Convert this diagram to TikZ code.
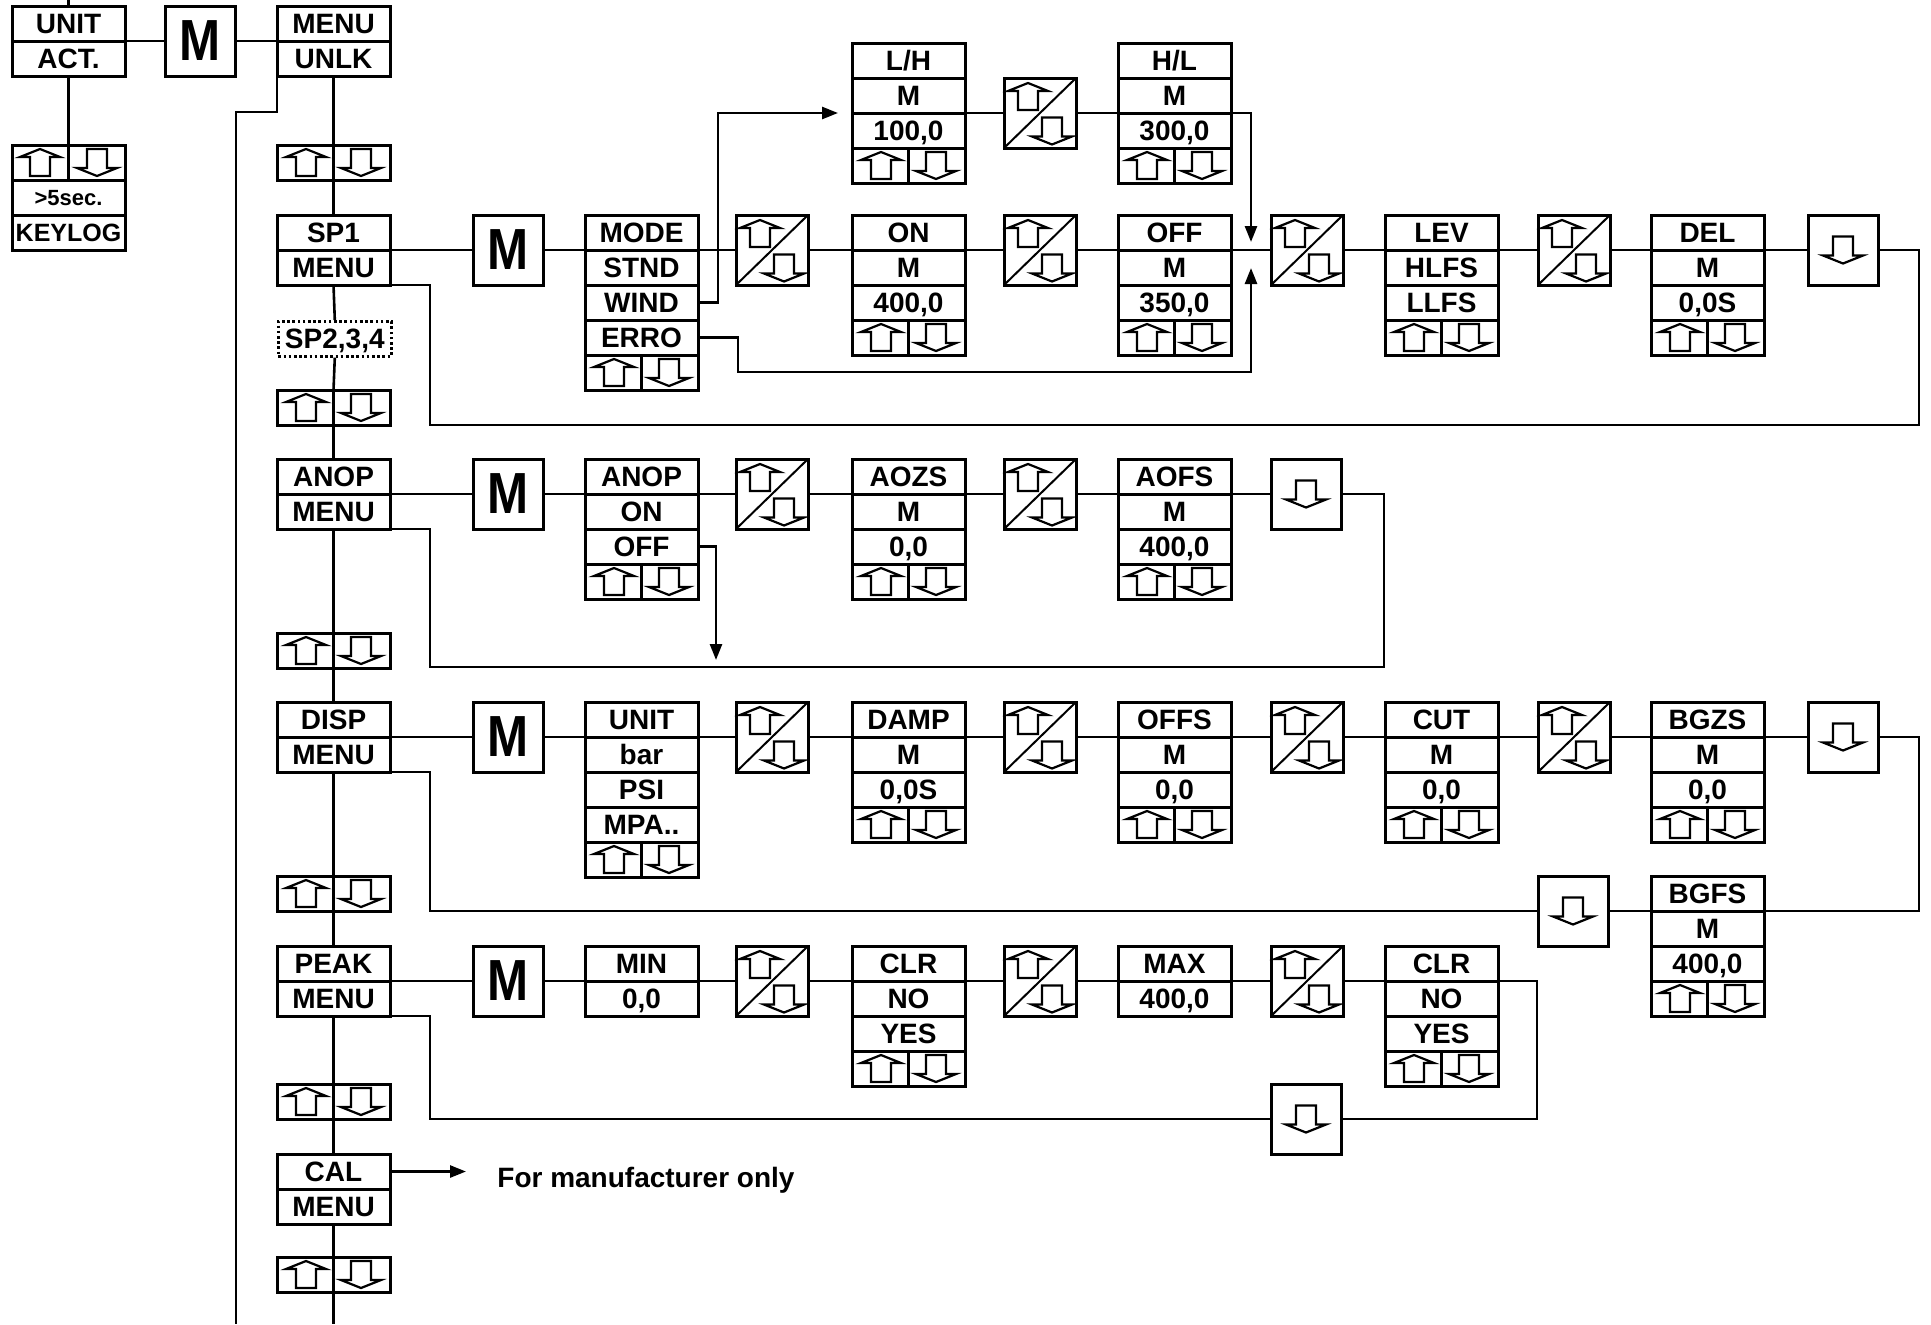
\documentclass[tikz,border=0pt]{standalone}
\usepackage{fontspec}
\setmainfont{Liberation Sans}
\usetikzlibrary{arrows.meta,calc}
\tikzset{
  bx/.style={draw, line width=1.5pt, inner sep=0pt, outer sep=0pt},
  bxl/.style={line width=1.5pt},
  conn/.style={line width=1.3pt},
  arr/.style={-{Triangle[length=8pt,width=6pt]}},
  txt/.style={font=\bfseries\fontsize{14}{14}\selectfont, inner sep=0pt, text height=10pt, text depth=0pt},
  glyph/.style={line width=1.1pt, line join=miter},
  uparr/.pic={\draw[glyph] (0,-13.5) -- (20,-5.5) -- (10,-5.5) -- (10,13.5) -- (-10,13.5) -- (-10,-5.5) -- (-20,-5.5) -- cycle;},
  dnarr/.pic={\draw[glyph] (0,13.5) -- (20,5.5) -- (10,5.5) -- (10,-13.5) -- (-10,-13.5) -- (-10,5.5) -- (-20,5.5) -- cycle;},
}
% stacked box: name, x, y, text rows, texts, arrow row (0/1)
\newcommand\sbx[6]{%
  \pgfmathsetmacro\sbxn{#4+#6}%
  \node[bx, minimum width=56.5pt, minimum height=\sbxn*17.5pt, anchor=north west] (#1) at (#2,#3) {};
  \foreach \lbl [count=\i] in {#5} {%
    \node[txt] at ({#2+56.5},{#3+35*\i-17.5}) {\lbl};
    \ifnum\i>1 \draw[bxl] (#2,{#3+35*(\i-1)}) -- ({#2+113},{#3+35*(\i-1)});\fi
  }
  \ifnum#6=1
    \draw[bxl] (#2,{#3+35*#4}) -- ({#2+113},{#3+35*#4});
    \draw[bxl] ({#2+56.5},{#3+35*#4}) -- ({#2+56.5},{#3+35*#4+35});
    \pic at ({#2+29},{#3+35*#4+17.5}) {uparr};
    \pic at ({#2+84},{#3+35*#4+17.5}) {dnarr};
  \fi
}
% arrow-only box
\newcommand\abx[3]{%
  \node[bx, minimum width=56.5pt, minimum height=17.5pt, anchor=north west] (#1) at (#2,#3) {};
  \draw[bxl] ({#2+56.5},#3) -- ({#2+56.5},{#3+35});
  \pic at ({#2+29},{#3+17.5}) {uparr};
  \pic at ({#2+84},{#3+17.5}) {dnarr};
}
% diagonal up/down box
\newcommand\dgx[3]{%
  \node[bx, minimum width=36pt, minimum height=35pt, anchor=north west] (#1) at (#2,#3) {};
  \draw[line width=1pt] (#1.south west) -- (#1.north east);
  \pic at ({#2+24},{#3+18.5}) {uparr};
  \pic at ({#2+48},{#3+53}) {dnarr};
}
% down-only box
\newcommand\dnx[3]{%
  \node[bx, minimum width=35pt, minimum height=35pt, anchor=north west] (#1) at (#2,#3) {};
  \pic at ({#2+35},{#3+35}) {dnarr};
}
% M box
\newcommand\mbx[3]{%
  \node[bx, minimum width=35pt, minimum height=35pt, anchor=north west,
    font=\bfseries\fontsize{29}{29}\selectfont\addfontfeatures{FakeStretch=0.85}] (#1) at (#2,#3) {M};
}
\begin{document}
\begin{tikzpicture}[x=0.5pt,y=-0.5pt]
\useasboundingbox (0,0) rectangle (1931,1324);
% helper coordinates
\coordinate (top) at (0,0);
\coordinate (bot) at (0,1324);
\coordinate (retx) at (430,0);
\coordinate (lb) at (236,112);
\coordinate (yL) at (0,113);
\coordinate (yS) at (0,250);
\coordinate (yA) at (0,494);
\coordinate (yD) at (0,737);
\coordinate (yB) at (0,911);
\coordinate (yP) at (0,981);
\coordinate (lhtip) at (838,113);
\coordinate (hltip) at (1251,242);
\coordinate (errtip) at (1251,268);
\coordinate (errbot) at (1251,372);
\coordinate (offtip) at (716,660);
\coordinate (ret1r) at (1919,425);
\coordinate (ret2r) at (1384,667);
\coordinate (ret3r) at (1919,911);
\coordinate (ret4r) at (1537,1119);
\coordinate (caltip) at (466,1171.5);

% ---- top row and left column
\sbx{unitact}{12}{6}{2}{UNIT,ACT.}{0}
\mbx{mtop}{165}{6}
\sbx{menu}{277}{6}{2}{MENU,UNLK}{0}
\node[bx, minimum width=56.5pt, minimum height=52.5pt, anchor=north west] (keylog) at (12,145) {};
\draw[bxl] (12,180) -- (125,180);
\draw[bxl] (12,215) -- (125,215);
\draw[bxl] (68.5,145) -- (68.5,180);
\pic at (40,162.5) {uparr};
\pic at (97,162.5) {dnarr};
\node[inner sep=0pt, font=\bfseries\fontsize{11}{11}\selectfont, text height=7.8pt, text depth=0pt] (fivesec) at (68.5,197.5) {>5sec.};
\node[inner sep=0pt, font=\bfseries\fontsize{12.5}{12.5}\selectfont, text height=9pt, text depth=0pt] (keylogtxt) at (68.5,232.5) {KEYLOG};

% ---- menu column
\abx{ua1}{277}{145}
\sbx{sp1}{277}{215}{2}{SP1,MENU}{0}
\node[txt, draw, line width=1.3pt, dash pattern=on 1.3pt off 1.3pt, minimum width=56.5pt, minimum height=17.5pt, anchor=north west] (sp234) at (277,320) {SP2,3,4};
\abx{ua2}{277}{390}
\sbx{anop}{277}{459}{2}{ANOP,MENU}{0}
\abx{ua3}{277}{633}
\sbx{disp}{277}{702}{2}{DISP,MENU}{0}
\abx{ua4}{277}{876}
\sbx{peak}{277}{946}{2}{PEAK,MENU}{0}
\abx{ua5}{277}{1084}
\sbx{cal}{277}{1154}{2}{CAL,MENU}{0}
\abx{ua6}{277}{1257}

% ---- SP1 row
\mbx{m1}{473}{215}
\sbx{mode}{585}{215}{4}{MODE,STND,WIND,ERRO}{1}
\dgx{d1}{736}{215}
\sbx{on}{852}{215}{3}{ON,M,{400,0}}{1}
\dgx{d2}{1004}{215}
\sbx{off}{1118}{215}{3}{OFF,M,{350,0}}{1}
\dgx{d3}{1271}{215}
\sbx{lev}{1385}{215}{3}{LEV,HLFS,LLFS}{1}
\dgx{d4}{1538}{215}
\sbx{del}{1651}{215}{3}{DEL,M,{0,0S}}{1}
\dnx{dn1}{1808}{215}
\sbx{lh}{852}{43}{3}{{L/H},M,{100,0}}{1}
\dgx{d5}{1004}{78}
\sbx{hl}{1118}{43}{3}{{H/L},M,{300,0}}{1}

% ---- ANOP row
\mbx{m2}{473}{459}
\sbx{anopv}{585}{459}{3}{ANOP,ON,OFF}{1}
\dgx{d6}{736}{459}
\sbx{aozs}{852}{459}{3}{AOZS,M,{0,0}}{1}
\dgx{d7}{1004}{459}
\sbx{aofs}{1118}{459}{3}{AOFS,M,{400,0}}{1}
\dnx{dn2}{1271}{459}

% ---- DISP row
\mbx{m3}{473}{702}
\sbx{unitv}{585}{702}{4}{UNIT,bar,PSI,{MPA..}}{1}
\dgx{d8}{736}{702}
\sbx{damp}{852}{702}{3}{DAMP,M,{0,0S}}{1}
\dgx{d9}{1004}{702}
\sbx{offs}{1118}{702}{3}{OFFS,M,{0,0}}{1}
\dgx{d10}{1271}{702}
\sbx{cut}{1385}{702}{3}{CUT,M,{0,0}}{1}
\dgx{d11}{1538}{702}
\sbx{bgzs}{1651}{702}{3}{BGZS,M,{0,0}}{1}
\dnx{dn3}{1808}{702}
\sbx{bgfs}{1651}{876}{3}{BGFS,M,{400,0}}{1}
\dnx{dn4}{1538}{876}

% ---- PEAK row
\mbx{m4}{473}{946}
\sbx{min}{585}{946}{2}{MIN,{0,0}}{0}
\dgx{d12}{736}{946}
\sbx{clra}{852}{946}{3}{CLR,NO,YES}{1}
\dgx{d13}{1004}{946}
\sbx{max}{1118}{946}{2}{MAX,{400,0}}{0}
\dgx{d14}{1271}{946}
\sbx{clrb}{1385}{946}{3}{CLR,NO,YES}{1}
\dnx{dn5}{1271}{1084}

% ---- CAL
\node[txt, anchor=west] (note) at (497,1177) {For manufacturer only};

% ===== connectors
\draw[conn] (unitact.north) -- (unitact.north |- top);
\draw[conn] (unitact.east) -- (mtop.west);
\draw[conn] (mtop.east) -- (menu.west);
\draw[conn] (unitact.south) -- (keylog.north);
\draw[conn] (menu.south west) |- (lb) -- (lb |- bot);
\foreach \a/\b in {menu/ua1, ua1/sp1, sp1/sp234, sp234/ua2, ua2/anop, anop/ua3, ua3/disp, disp/ua4, ua4/peak, peak/ua5, ua5/cal, cal/ua6}
  \draw[conn] (\a.south) -- (\b.north);
\draw[conn] (ua6.south) -- (ua6.south |- bot);

\foreach \a/\b in {sp1/m1, m1/mode, mode/d1, d1/on, on/d2, d2/off, off/d3, d3/lev, lev/d4, d4/del, del/dn1}
  \draw[conn] (\a.east |- yS) -- (\b.west |- yS);
\foreach \a/\b in {lh/d5, d5/hl}
  \draw[conn] (\a.east |- yL) -- (\b.west |- yL);
\foreach \a/\b in {anop/m2, m2/anopv, anopv/d6, d6/aozs, aozs/d7, d7/aofs, aofs/dn2}
  \draw[conn] (\a.east |- yA) -- (\b.west |- yA);
\foreach \a/\b in {disp/m3, m3/unitv, unitv/d8, d8/damp, damp/d9, d9/offs, offs/d10, d10/cut, cut/d11, d11/bgzs, bgzs/dn3}
  \draw[conn] (\a.east |- yD) -- (\b.west |- yD);
\foreach \a/\b in {dn4/bgfs}
  \draw[conn] (\a.east |- yB) -- (\b.west |- yB);
\foreach \a/\b in {peak/m4, m4/min, min/d12, d12/clra, clra/d13, d13/max, max/d14, d14/clrb}
  \draw[conn] (\a.east |- yP) -- (\b.west |- yP);

% branches
\draw[conn,arr] (mode.east) -- ++(20,0) |- (lhtip);
\draw[conn,arr] (hl.east |- yL) -| (hltip);
\draw[conn,arr] ($(mode.east)+(0,35)$) -- ++(40,0) |- (errbot) -- (errtip);
\draw[conn,arr] ($(anopv.east)+(0,17.5)$) -| (offtip);

% returns
\draw[conn] (dn1.east) -| (ret1r) -- (ret1r -| retx) |- (sp1.south east);
\draw[conn] (dn2.east) -| (ret2r) -- (ret2r -| retx) |- (anop.south east);
\draw[conn] (dn3.east) -| (ret3r) -- (ret3r -| bgfs.east);
\draw[conn] (dn4.west) -- (dn4.west -| retx) |- (disp.south east);
\draw[conn] (clrb.east |- yP) -| (ret4r) -- (dn5.east);
\draw[conn] (dn5.west) -- (dn5.west -| retx) |- (peak.south east);

% CAL
\draw[conn,arr] ($(cal.east)+(0,-17.5)$) -- (caltip);
\end{tikzpicture}
\end{document}
